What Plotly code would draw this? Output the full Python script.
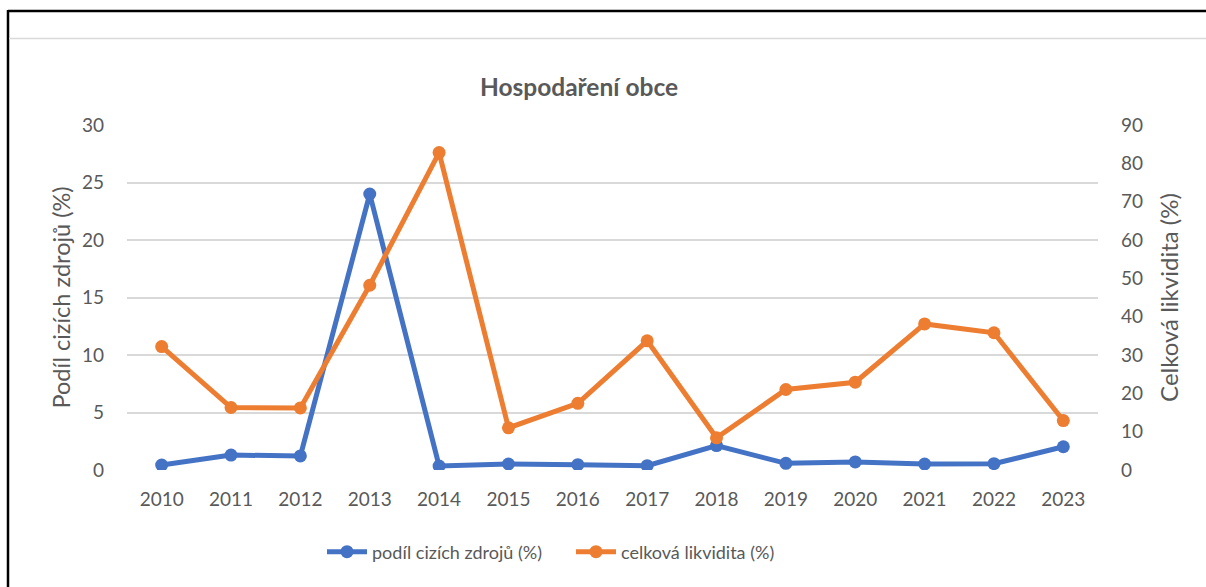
import plotly.graph_objects as go

years = ["2010", "2011", "2012", "2013", "2014", "2015", "2016", "2017", "2018", "2019", "2020", "2021", "2022", "2023"]
podil_cizich_zdroju = [0.43, 1.3, 1.22, 24.0, 0.35, 0.52, 0.46, 0.38, 2.12, 0.58, 0.7, 0.52, 0.55, 2.02]
celkova_likvidita = [32.2, 16.3, 16.2, 48.2, 82.8, 11.0, 17.4, 33.7, 8.4, 21.0, 22.9, 38.1, 35.8, 12.9]

left_ticks = [0, 5, 10, 15, 20, 25, 30]
right_ticks = [0, 10, 20, 30, 40, 50, 60, 70, 80, 90]

BLUE = "#4472C4"
ORANGE = "#ED7D31"
GRID = "#D9D9D9"
TXT = "#595959"
FONT = "Lato, 'Open Sans', sans-serif"

W, H = 1206, 587
L, R, T, B = 127, 108, 125, 117
pw, ph = W - L - R, H - T - B

def px_x(px):
    return (px - L) / pw

def px_y(py):
    return (H - B - py) / ph

fig = go.Figure()
fig.add_trace(go.Scatter(
    x=years, y=podil_cizich_zdroju, name="podíl cizích zdrojů (%)",
    mode="lines+markers", line=dict(color=BLUE, width=5),
    marker=dict(size=13, color=BLUE), yaxis="y"))
fig.add_trace(go.Scatter(
    x=years, y=celkova_likvidita, name="celková likvidita (%)",
    mode="lines+markers", line=dict(color=ORANGE, width=5),
    marker=dict(size=13, color=ORANGE), yaxis="y2"))

fig.update_layout(
    width=W, height=H,
    margin=dict(l=L, r=R, t=T, b=B),
    paper_bgcolor="white", plot_bgcolor="white",
    font=dict(family=FONT, color=TXT, size=19),
    title=dict(text="<b>Hospodaření obce</b>", x=579 / W,
               xanchor="center", y=1 - 87 / H, yanchor="middle", yref="container",
               font=dict(size=24.5, color=TXT, family=FONT)),
    xaxis=dict(type="category", range=[-0.5, 13.5], showgrid=False, showline=False,
               ticks="", tickfont=dict(size=19, color=TXT), ticklabelstandoff=16),
    yaxis=dict(range=[0, 30], tickvals=left_ticks, showgrid=True, gridcolor=GRID, gridwidth=1.5,
               zeroline=False, showline=False, ticks="", tickfont=dict(size=19, color=TXT),
               ticklabelstandoff=22,
               title=dict(text="Podíl cizích zdrojů (%)", font=dict(size=23.5, color=TXT), standoff=4)),
    yaxis2=dict(range=[0, 90], tickvals=right_ticks, overlaying="y", side="right",
                showgrid=False, zeroline=False, showline=False, ticks="",
                tickfont=dict(size=19, color=TXT), ticklabelstandoff=22,
                title=dict(text="Celková likvidita (%)", font=dict(size=24, color=TXT), standoff=19)),
    legend=dict(orientation="h", x=px_x(322), xanchor="left", y=px_y(552), yanchor="middle",
                font=dict(size=18, color=TXT), itemwidth=40, entrywidth=194),
    showlegend=True,
)

# frame lines from the original screenshot
fig.add_shape(type="line", xref="paper", yref="paper", x0=px_x(8), x1=px_x(1210),
              y0=px_y(11), y1=px_y(11), line=dict(color="black", width=2.5))
fig.add_shape(type="line", xref="paper", yref="paper", x0=px_x(8), x1=px_x(8),
              y0=px_y(10), y1=px_y(590), line=dict(color="black", width=2.5))
fig.add_shape(type="line", xref="paper", yref="paper", x0=px_x(9), x1=px_x(1210),
              y0=px_y(38.5), y1=px_y(38.5), line=dict(color=GRID, width=1.5))

fig.write_html("out.html", config={"displayModeBar": False})

# remove the browser's default body margin so the figure sits at the page origin
with open("out.html", "r", encoding="utf-8") as f:
    html = f.read()
html = html.replace("<body>", '<body style="margin:0;padding:0;overflow:hidden">', 1)
html = html.replace("<head>", '<head><style>html,body{margin:0;padding:0;}</style>', 1)
with open("out.html", "w", encoding="utf-8") as f:
    f.write(html)
